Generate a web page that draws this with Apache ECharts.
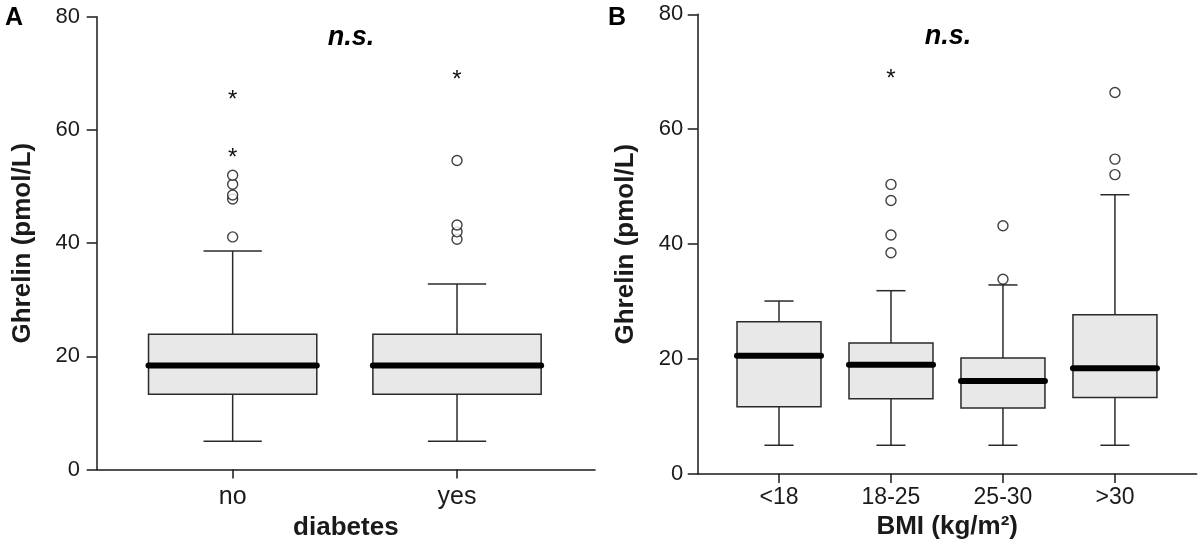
<!DOCTYPE html>
<html>
<head>
<meta charset="utf-8">
<script src="https://cdn.jsdelivr.net/npm/echarts@6/dist/echarts.min.js"></script>
<style>html,body{margin:0;padding:0;background:#fff;}#c{width:1200px;height:546px;}</style>
</head>
<body>
<div id="c"></div>
<script>
// ---- data ----
const yTicks = [0, 20, 40, 60, 80];

const diabetesCats = ['no', 'yes'];
// [lower whisker, Q1, median, Q3, upper whisker]
const diabetesStats = [
  [5.0, 13.3, 18.4, 23.9, 38.6],
  [5.0, 13.3, 18.4, 23.9, 32.8]
];
const diabetesCircles = [
  [41.1, 47.8, 48.5, 50.4, 52.0],
  [40.7, 42.0, 43.2, 54.6]
];
const diabetesStars = [
  [56.2, 66.5],
  [70.0]
];

const bmiCats = ['<18', '18-25', '25-30', '>30'];
const bmiStats = [
  [5.0, 11.7, 20.6, 26.5, 30.1],
  [5.0, 13.1, 19.0, 22.8, 31.9],
  [5.0, 11.5, 16.2, 20.2, 32.9],
  [5.0, 13.3, 18.4, 27.7, 48.6]
];
const bmiCircles = [
  [],
  [38.5, 41.6, 47.6, 50.4],
  [33.9, 43.2],
  [52.1, 54.8, 66.4]
];
const bmiStars = [
  [],
  [69.9],
  [],
  []
];

// ---- helpers ----
const FONT = 'Liberation Sans, Arial, Helvetica, sans-serif';
const INK = '#1a1a1a';

function boxData(stats) {
  return stats.map((s, i) => [i + 1].concat(s));
}
function pointData(lists) {
  const out = [];
  lists.forEach((l, i) => l.forEach(v => out.push([i + 1, v])));
  return out;
}

function renderBox(params, api) {
  const x = api.value(0);
  const low = api.coord([x, api.value(1)]);
  const q1 = api.coord([x, api.value(2)]);
  const med = api.coord([x, api.value(3)]);
  const q3 = api.coord([x, api.value(4)]);
  const high = api.coord([x, api.value(5)]);
  const halfW = api.size([0.75, 0])[0] / 2;
  const capHalf = api.size([0.26, 0])[0] / 2;
  const cx = low[0];
  const lineStyle = { stroke: '#2a2a2a', lineWidth: 1.5 };
  return {
    type: 'group',
    children: [
      { type: 'line', shape: { x1: cx, y1: low[1], x2: cx, y2: q1[1] }, style: lineStyle },
      { type: 'line', shape: { x1: cx, y1: q3[1], x2: cx, y2: high[1] }, style: lineStyle },
      { type: 'line', shape: { x1: cx - capHalf, y1: low[1], x2: cx + capHalf, y2: low[1] }, style: lineStyle },
      { type: 'line', shape: { x1: cx - capHalf, y1: high[1], x2: cx + capHalf, y2: high[1] }, style: lineStyle },
      { type: 'rect', shape: { x: cx - halfW, y: q3[1], width: halfW * 2, height: q1[1] - q3[1] },
        style: { fill: '#e8e8e8', stroke: '#2a2a2a', lineWidth: 1.5 } },
      { type: 'line', shape: { x1: cx - halfW, y1: med[1], x2: cx + halfW, y2: med[1] },
        style: { stroke: '#000', lineWidth: 6, lineCap: 'round' } }
    ]
  };
}

function renderStar(params, api) {
  const p = api.coord([api.value(0), api.value(1)]);
  return {
    type: 'text',
    x: p[0], y: p[1] + 7,
    style: { text: '*', font: '24px ' + FONT, fill: '#111', align: 'center', verticalAlign: 'middle' }
  };
}

function xAxis(gridIndex, cats, min, max, fs, margin, name, nameGap) {
  const vals = cats.map((c, i) => i + 1);
  return {
    type: 'value', gridIndex, min, max,
    splitLine: { show: false },
    axisLine: { show: true, onZero: false, lineStyle: { color: INK, width: 1.5 } },
    axisTick: { show: true, customValues: vals, length: 9, lineStyle: { color: INK, width: 1.5 } },
    axisLabel: { show: true, customValues: vals, margin, color: INK, fontSize: fs, fontFamily: FONT,
      formatter: v => cats[Math.round(v) - 1] },
    name, nameLocation: 'middle', nameGap,
    nameTextStyle: { fontSize: 26, fontWeight: 'bold', color: INK, fontFamily: FONT }
  };
}
function yAxis(gridIndex, margin, nameGap) {
  return {
    type: 'value', gridIndex, min: yTicks[0], max: yTicks[yTicks.length - 1], interval: yTicks[1] - yTicks[0],
    splitLine: { show: false },
    axisLine: { show: true, lineStyle: { color: INK, width: 1.5 } },
    axisTick: { show: true, length: 10, lineStyle: { color: INK, width: 1.5 } },
    axisLabel: { margin, color: INK, fontSize: 22, fontFamily: FONT },
    name: 'Ghrelin (pmol/L)', nameLocation: 'middle', nameGap,
    nameTextStyle: { fontSize: 26, fontWeight: 'bold', color: INK, fontFamily: FONT }
  };
}

const circleStyle = { color: '#fff', borderColor: '#111', borderWidth: 1.4 };

const option = {
  animation: false,
  backgroundColor: '#fff',
  grid: [
    { left: 96.7, right: 605, top: 16.7, bottom: 70.3 },
    { left: 697.7, right: 3.3, top: 14.3, bottom: 72 }
  ],
  xAxis: [
    xAxis(0, diabetesCats, 0.394, 2.615, 25, 15.5, 'diabetes', 38),
    xAxis(1, bmiCats, 0.274, 4.73, 23, 12, 'BMI (kg/m²)', 40)
  ],
  yAxis: [yAxis(0, 16.7, 61), yAxis(1, 14.4, 58.5)],
  series: [
    { type: 'custom', xAxisIndex: 0, yAxisIndex: 0, renderItem: renderBox,
      encode: { x: 0, y: [1, 2, 3, 4, 5] }, data: boxData(diabetesStats), silent: true },
    { type: 'custom', xAxisIndex: 1, yAxisIndex: 1, renderItem: renderBox,
      encode: { x: 0, y: [1, 2, 3, 4, 5] }, data: boxData(bmiStats), silent: true },
    { type: 'scatter', xAxisIndex: 0, yAxisIndex: 0, symbol: 'circle', symbolSize: 10,
      itemStyle: circleStyle, data: pointData(diabetesCircles), silent: true },
    { type: 'scatter', xAxisIndex: 1, yAxisIndex: 1, symbol: 'circle', symbolSize: 10,
      itemStyle: circleStyle, data: pointData(bmiCircles), silent: true },
    { type: 'custom', xAxisIndex: 0, yAxisIndex: 0, renderItem: renderStar,
      encode: { x: 0, y: 1 }, data: pointData(diabetesStars), silent: true },
    { type: 'custom', xAxisIndex: 1, yAxisIndex: 1, renderItem: renderStar,
      encode: { x: 0, y: 1 }, data: pointData(bmiStars), silent: true }
  ],
  graphic: [
    { type: 'text', left: 5, top: 6, style: { text: 'A', font: 'bold 25px ' + FONT, fill: '#000' } },
    { type: 'text', left: 608, top: 6, style: { text: 'B', font: 'bold 25px ' + FONT, fill: '#000' } },
    { type: 'text', x: 351, y: 38, style: { text: 'n.s.', font: 'italic bold 27px ' + FONT, fill: '#000', align: 'center', verticalAlign: 'middle' } },
    { type: 'text', x: 948, y: 37, style: { text: 'n.s.', font: 'italic bold 27px ' + FONT, fill: '#000', align: 'center', verticalAlign: 'middle' } }
  ]
};

const chart = echarts.init(document.getElementById('c'), null, { renderer: 'canvas' });
chart.setOption(option);
</script>
</body>
</html>
